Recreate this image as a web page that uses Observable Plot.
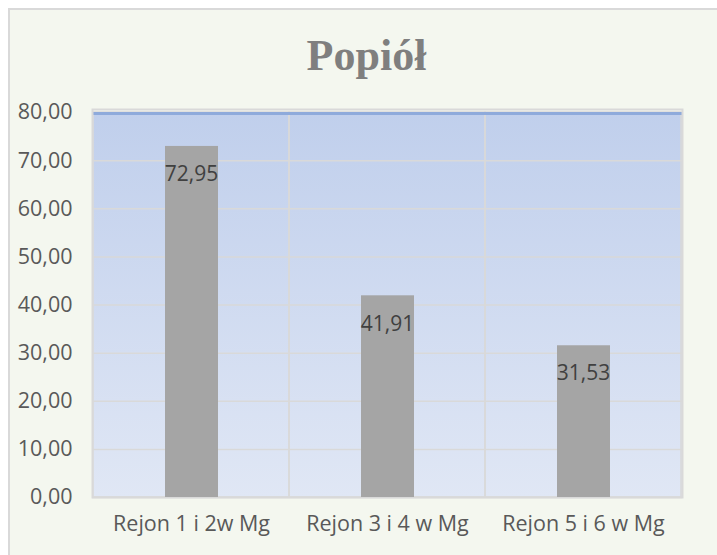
<!DOCTYPE html>
<html>
<head>
<meta charset="utf-8">
<script src="https://cdn.jsdelivr.net/npm/d3@7"></script>
<script src="https://cdn.jsdelivr.net/npm/@observablehq/plot@0.6"></script>
<style>
  html, body { margin: 0; padding: 0; background: #ffffff; }
  #wrap { position: relative; width: 717px; height: 555px; overflow: hidden; }
  #box { position: absolute; left: 8px; top: 8px; width: 760px; height: 600px;
         background: #f4f7ef; border-left: 2px solid #d9d9d9; border-top: 2px solid #d9d9d9; }
  #chart { position: absolute; left: 0; top: 0; }
  #chart svg { background: transparent; }
</style>
</head>
<body>
<div id="wrap"><div id="box"></div><div id="chart"></div></div>
<script>
const title = "Popiół";
const categories = ["Rejon 1 i 2w Mg", "Rejon 3 i 4 w Mg", "Rejon 5 i 6 w Mg"];
const values = [72.95, 41.91, 31.53];
const yTicks = [0, 10, 20, 30, 40, 50, 60, 70, 80];

const data = categories.map((c, i) => ({category: c, value: values[i]}));
const fmt = d => d.toFixed(2).replace(".", ",");
const font = "'Open Sans', sans-serif";

const plot = Plot.plot({
  width: 717,
  height: 555,
  marginLeft: 92,
  marginRight: 35,
  marginTop: 112,
  marginBottom: 58,
  style: {background: "transparent", fontFamily: font, color: "#595959", overflow: "visible"},
  x: {type: "band", domain: categories, padding: 0, label: null},
  y: {domain: [0, 80], label: null},
  marks: [
    Plot.frame({fill: "url(#plotGrad)", stroke: "none"}),
    Plot.ruleY(yTicks.filter(d => d < 80), {stroke: "#d9d9d9", strokeWidth: 1.5}),
    Plot.barY(categories, {x: d => d, y: 80, fill: "none", stroke: "#d9d9d9", strokeWidth: 1.5}),
    Plot.ruleY([80], {stroke: "#8eaadb", strokeWidth: 3, dy: 1}),
    Plot.frame({stroke: "#d9d9d9", strokeWidth: 2, fill: "none", insetTop: -3}),
    Plot.barY(data, {x: "category", y: "value", fill: "#a5a5a5", insetLeft: 72, insetRight: 71}),
    Plot.text(data, {x: "category", y: "value", text: d => fmt(d.value), dy: 28,
      fill: "#404040", fontSize: 21, fontFamily: font}),
    Plot.axisY({ticks: yTicks, tickFormat: fmt, tickSize: 0, tickPadding: 20, fontSize: 21.5, fill: "#595959", label: null}),
    Plot.axisX({tickSize: 0, tickPadding: 18, fontSize: 21.5, fill: "#595959", label: null}),
    Plot.text([title], {frameAnchor: "top", lineAnchor: "middle", dx: -21, dy: -57, fontSize: 44, fontWeight: "bold",
      fontFamily: "'Liberation Serif', serif", fill: "#7f7f7f"})
  ]
});

const defs = document.createElementNS("http://www.w3.org/2000/svg", "defs");
defs.innerHTML = `<linearGradient id="plotGrad" x1="0" y1="0" x2="0" y2="1">
  <stop offset="0" stop-color="#c0cfec"/>
  <stop offset="1" stop-color="#e0e7f5"/>
</linearGradient>`;
plot.insertBefore(defs, plot.firstChild);
document.getElementById("chart").appendChild(plot);
</script>
</body>
</html>
